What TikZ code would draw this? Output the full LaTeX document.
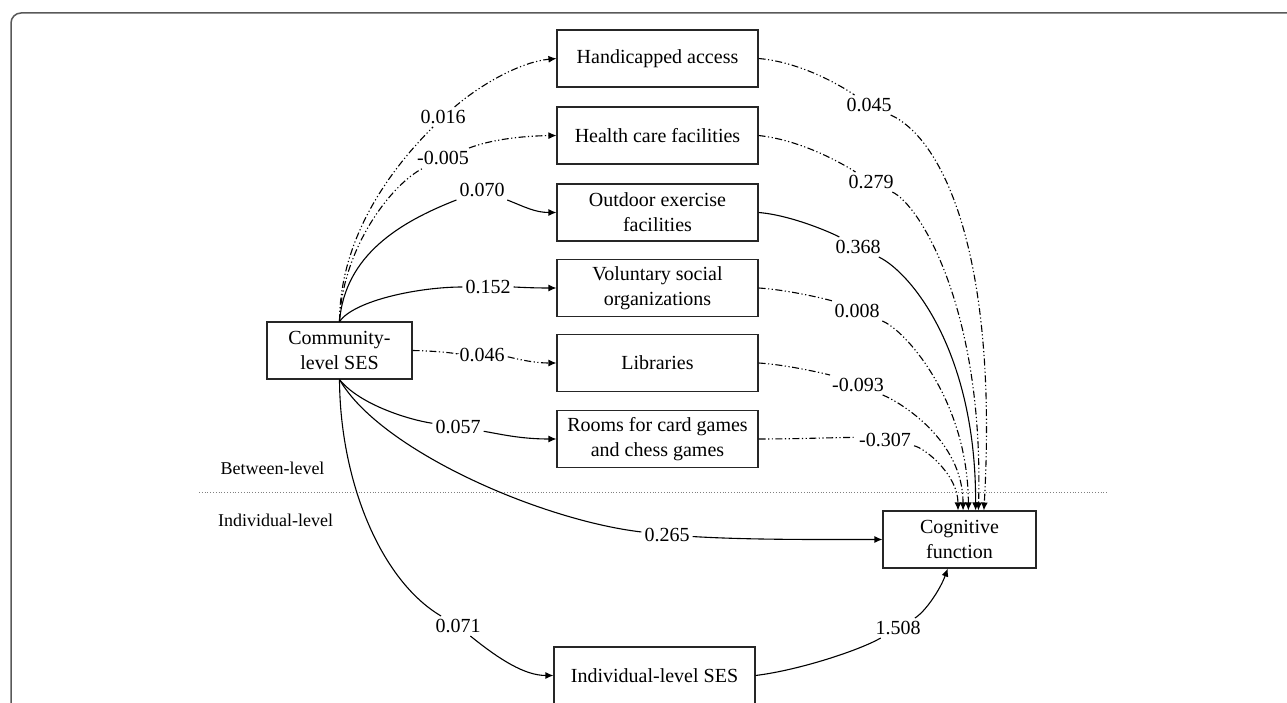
\documentclass[tikz,border=0pt]{standalone}
\usepackage{fontspec}
\setmainfont{Liberation Serif}
\usetikzlibrary{arrows.meta}
\begin{document}
\begin{tikzpicture}[x=1pt,y=-1pt,
 box/.style={draw=black!85, line width=1.1pt, minimum width=201pt, minimum height=57pt, inner sep=0pt, align=center, font=\fontsize{20}{25}\selectfont},
 lbl/.style={inner sep=3pt, font=\fontsize{20}{24}\selectfont},
 lvl/.style={font=\fontsize{18}{22}\selectfont},
 arr/.style={line width=1.1pt, -{Latex[length=8pt,width=7pt]}},
 dd/.style={arr, dash pattern=on 7pt off 2.5pt on 1.2pt off 2.5pt on 1.2pt off 2.5pt},
 divider/.style={dotted, draw=black!50, line width=0.8pt},
]
\useasboundingbox (0,0) rectangle (1287,703);
\begin{scope}
\clip (0,0) rectangle (1287,703);
\draw[draw=black!65, line width=1.5pt, rounded corners=10pt] (11,13) rectangle (1320,740);
\end{scope}

\node[box] (hand) at (657.5,58.5) {Handicapped access};
\node[box] (health) at (657.5,135.5) {Health care facilities};
\node[box] (out) at (657.5,212.5) {Outdoor exercise\\facilities};
\node[box] (vol) at (657.5,288) {Voluntary social\\organizations};
\node[box] (lib) at (657.5,363) {Libraries};
\node[box] (room) at (657.5,439) {Rooms for card games\\and chess games};
\node[box, minimum width=145pt] (com) at (339.5,350.5) {Community-\\level SES};
\node[box, minimum width=153pt] (cog) at (959.5,539.5) {Cognitive\\function};
\node[box] (ind) at (654.5,675.5) {Individual-level SES};

\draw[divider] (199,492) -- (1107,492);
\node[lvl] (bl) at (272.5,468) {Between-level};
\node[lvl] (il) at (275.5,520) {Individual-level};

% labels
\node[lbl] (l1) at (443,117) {0.016};
\node[lbl] (l2) at (443,158) {-0.005};
\node[lbl] (l3) at (482,190) {0.070};
\node[lbl] (l4) at (488,287) {0.152};
\node[lbl] (l5) at (482,355) {0.046};
\node[lbl] (l6) at (458,427) {0.057};
\node[lbl] (l7) at (667,535) {0.265};
\node[lbl] (l8) at (458,626) {0.071};
\node[lbl] (r1) at (869,105) {0.045};
\node[lbl] (r2) at (871,182) {0.279};
\node[lbl] (r3) at (858,247) {0.368};
\node[lbl] (r4) at (857,311) {0.008};
\node[lbl] (r5) at (858,385) {-0.093};
\node[lbl] (r6) at (885,440) {-0.307};
\node[lbl] (r7) at (898,628) {1.508};

% left side
\draw[dd] (com.north) .. controls (340,230) and (400,160) .. (l1) .. controls (480,85) and (520,62) .. (hand.west);
\draw[dd] (com.north) .. controls (342,250) and (390,185) .. (l2) .. controls (490,140) and (520,136) .. (health.west);
\draw[arr] (com.north) .. controls (345,255) and (400,222) .. (l3) .. controls (525,207) and (535,212.5) .. (out.west);
\draw[arr] (com.north) .. controls (355,300) and (420,287) .. (l4) .. controls (515,287) and (530,288) .. (vol.west);
\draw[dd] (com.east) .. controls (440,351) and (460,354) .. (l5) .. controls (510,357) and (530,363) .. (lib.west);
\draw[arr] (com.south) .. controls (360,405) and (410,420) .. (l6) .. controls (500,434) and (520,439) .. (room.west);
\draw[arr] (com.south) .. controls (380,450) and (540,520) .. (l7) .. controls (750,540) and (820,539.5) .. (cog.west);
\draw[arr] (com.south) .. controls (340,480) and (380,580) .. (l8) .. controls (500,660) and (525,675.5) .. (ind.west);
% right side
\draw[dd] (hand.east) .. controls (800,62) and (840,85) .. (r1) .. controls (945,140) and (998,260) .. (cog.50.5);
\draw[dd] (health.east) .. controls (800,140) and (840,162) .. (r2) .. controls (920,205) and (984,310) .. (cog.57);
\draw[arr] (out.east) .. controls (790,215) and (830,232) .. (r3) .. controls (910,272) and (976,350) .. (cog.61.5);
\draw[dd] (vol.east) .. controls (790,290) and (830,300) .. (r4) .. controls (905,330) and (968,400) .. (cog.73.4);
\draw[dd] (lib.east) .. controls (790,365) and (830,375) .. (r5) .. controls (900,402) and (963,440) .. (cog.83);
\draw[dd] (room.east) .. controls (800,439) and (850,437) .. (r6) .. controls (925,448) and (958,475) .. (cog.93);
\draw[arr] (ind.east) .. controls (800,670) and (860,650) .. (r7) .. controls (925,612) and (940,590) .. (cog.248);
\end{tikzpicture}
\end{document}
